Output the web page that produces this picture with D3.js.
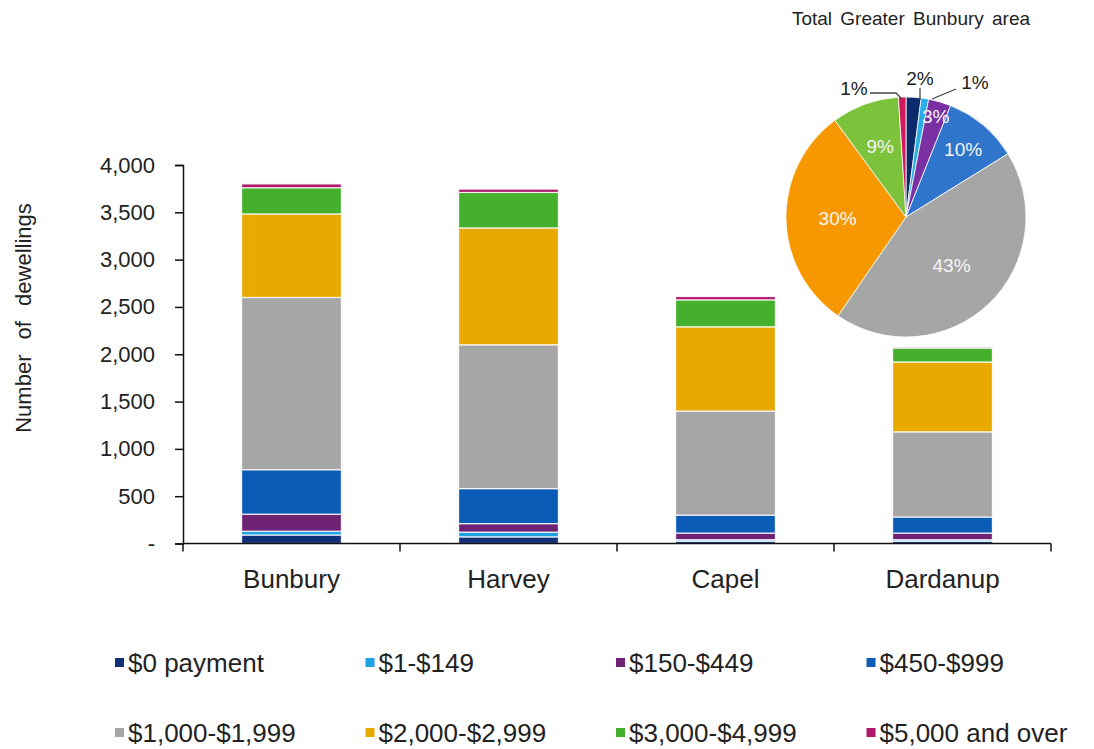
<!DOCTYPE html>
<html>
<head>
<meta charset="utf-8">
<script src="https://cdn.jsdelivr.net/npm/d3@7"></script>
<style>
  html, body { margin: 0; padding: 0; background: #fff; }
  svg { display: block; font-family: "Liberation Sans", Arial, sans-serif; }
</style>
</head>
<body>
<svg id="chart" width="1094" height="749"></svg>
<script>
// Monthly mortgage repayments by local government area (number of dwellings)
const categories = ["Bunbury", "Harvey", "Capel", "Dardanup"];
const seriesNames = ["$0 payment", "$1-$149", "$150-$449", "$450-$999",
                     "$1,000-$1,999", "$2,000-$2,999", "$3,000-$4,999", "$5,000 and over"];

// one array per repayment band, values in category order
const pay0        = [90, 70, 25, 25];
const pay1to149   = [40, 50, 15, 15];
const pay150to449 = [180, 90, 70, 70];
const pay450to999 = [470, 370, 190, 170];
const pay1000to1999 = [1820, 1520, 1100, 900];
const pay2000to2999 = [883, 1235, 890, 738];
const pay3000to4999 = [277, 375, 285, 148];
const pay5000plus = [40, 35, 35, 10];

// share of all dwellings in the Greater Bunbury area (%)
const piePercent = [2, 1, 3, 10, 43, 30, 9, 1];

const yTicks = [0, 500, 1000, 1500, 2000, 2500, 3000, 3500, 4000];

const barColors = ["#122f7a", "#1fa3e0", "#6e2274", "#0b5cb6",
                   "#a6a6a6", "#e8a900", "#45b02c", "#b0186c"];
const pieColors = ["#0d2b6c", "#27aee8", "#7a2fa2", "#2f75cc",
                   "#a6a6a6", "#f79800", "#7cc23a", "#d0195e"];

const seriesValues = [pay0, pay1to149, pay150to449, pay450to999,
                      pay1000to1999, pay2000to2999, pay3000to4999, pay5000plus];

const rows = categories.map((c, i) => {
  const r = { category: c };
  seriesNames.forEach((s, j) => { r[s] = seriesValues[j][i]; });
  return r;
});

const svg = d3.select("#chart");
const textColor = "#222";

// scales
const x = d3.scaleBand().domain(categories).range([183, 1051]).padding(0);
const y = d3.scaleLinear().domain([0, 4000]).range([543.5, 165]);
const barW = x.bandwidth() * 0.46;

// stacked bars
const stack = d3.stack().keys(seriesNames)(rows);
const gBars = svg.append("g");
stack.forEach((layer, j) => {
  gBars.selectAll(null)
    .data(layer)
    .join("rect")
    .attr("x", d => x(d.data.category) + (x.bandwidth() - barW) / 2)
    .attr("width", barW)
    .attr("y", d => y(d[1]))
    .attr("height", d => Math.max(0, y(d[0]) - y(d[1])))
    .attr("fill", barColors[j])
    .attr("stroke", "#ffffff")
    .attr("stroke-opacity", 0.85)
    .attr("stroke-width", 1.2);
});

// y axis
const yAxis = d3.axisLeft(y)
  .tickValues(yTicks)
  .tickSize(8)
  .tickPadding(20)
  .tickFormat(d => d === 0 ? "-" : d3.format(",")(d));
const gy = svg.append("g").attr("transform", "translate(183,0)").call(yAxis);
gy.select(".domain").attr("stroke", "#111").attr("stroke-width", 1.5);
gy.selectAll(".tick line").attr("stroke", "#111").attr("stroke-width", 1.5);
gy.selectAll(".tick text")
  .attr("fill", textColor)
  .style("font-size", "22px");

// x axis: ticks on category boundaries, labels at band centres
const gx = svg.append("g").attr("transform", "translate(0,543.5)");
gx.append("line")
  .attr("x1", x.range()[0]).attr("x2", x.range()[1])
  .attr("stroke", "#111").attr("stroke-width", 1.5);
const boundaries = categories.map(c => x(c)).concat([x.range()[1]]);
gx.selectAll(".xtick")
  .data(boundaries)
  .join("line")
  .attr("x1", d => d).attr("x2", d => d)
  .attr("y1", 0).attr("y2", 8)
  .attr("stroke", "#111").attr("stroke-width", 1.5);
gx.selectAll(".xlabel")
  .data(categories)
  .join("text")
  .attr("x", d => x(d) + x.bandwidth() / 2)
  .attr("y", 44)
  .attr("text-anchor", "middle")
  .attr("fill", textColor)
  .style("font-size", "26px")
  .text(d => d);

// y axis title
svg.append("text")
  .attr("transform", "translate(31,318) rotate(-90)")
  .attr("text-anchor", "middle")
  .attr("fill", textColor)
  .style("font-size", "22px")
  .style("word-spacing", "9px")
  .text("Number of dewellings");

// legend, two rows of four
const legend = svg.append("g");
seriesNames.forEach((s, i) => {
  const col = i % 4, row = Math.floor(i / 4);
  const lx = 119 + col * 250.5;
  const ly = 663 + row * 70;
  legend.append("rect")
    .attr("x", lx - 4).attr("y", ly - 5)
    .attr("width", 9).attr("height", 9)
    .attr("fill", barColors[i]);
  legend.append("text")
    .attr("x", lx + 9)
    .attr("y", ly)
    .attr("dy", "0.36em")
    .attr("fill", textColor)
    .style("font-size", "26px")
    .text(s);
});

// pie of the area totals
const cx = 906, cy = 217, R = 120;
const pieG = svg.append("g").attr("transform", `translate(${cx},${cy})`);
const arcs = d3.pie().sort(null).value(d => d)(piePercent);
const arc = d3.arc().innerRadius(0).outerRadius(R);
pieG.selectAll("path")
  .data(arcs)
  .join("path")
  .attr("d", arc)
  .attr("fill", (d, i) => pieColors[i])
  .attr("stroke", "#fff")
  .attr("stroke-width", 0.8);

// label placement: inside labels sit at a fraction of the radius along the
// slice's mid angle; the three thin slices get outside labels with leaders
const labelPlacement = [
  { out: true, dx: 14, dy: -139, leader: [[14, -129], [14, -117]] },
  { out: true, dx: 69, dy: -135, leader: [[50, -128], [26, -118]] },
  { r: 0.88 }, { r: 0.74 }, { r: 0.55 }, { r: 0.57 }, { r: 0.63 },
  { out: true, dx: -52, dy: -129, leader: [[-36, -124], [-10, -124], [-4, -118]] }
];
arcs.forEach((a, i) => {
  const p = labelPlacement[i];
  const mid = (a.startAngle + a.endAngle) / 2;
  let lx, ly, fill;
  if (p.out) {
    lx = p.dx; ly = p.dy; fill = "#222";
    pieG.append("path")
      .attr("d", d3.line()(p.leader))
      .attr("fill", "none")
      .attr("stroke", "#444")
      .attr("stroke-width", 1.3);
  } else {
    lx = Math.sin(mid) * R * p.r;
    ly = -Math.cos(mid) * R * p.r;
    fill = "#f6f6f6";
  }
  pieG.append("text")
    .attr("x", lx).attr("y", ly)
    .attr("dy", "0.36em")
    .attr("text-anchor", "middle")
    .attr("fill", fill)
    .style("font-size", "19px")
    .text(piePercent[i] + "%");
});

svg.append("text")
  .attr("x", 911).attr("y", 18)
  .attr("dy", "0.36em")
  .attr("text-anchor", "middle")
  .attr("fill", textColor)
  .style("font-size", "19px")
  .style("word-spacing", "3px")
  .text("Total Greater Bunbury area");
</script>
</body>
</html>
